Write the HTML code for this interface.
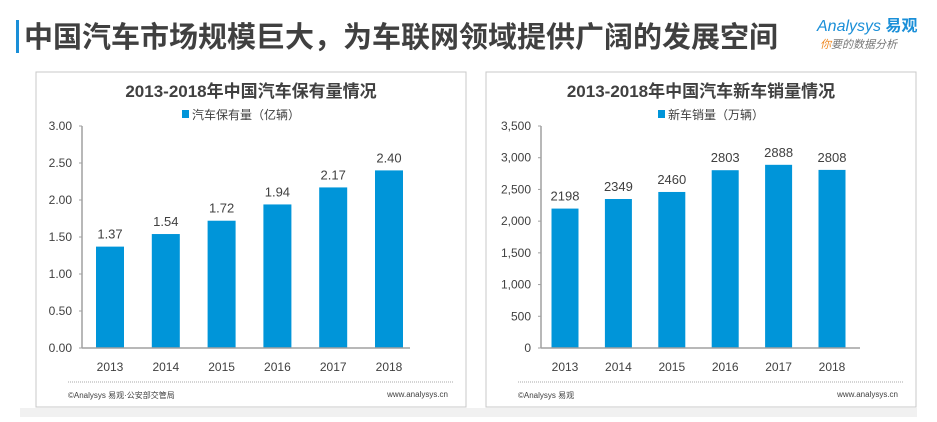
<!DOCTYPE html>
<html><head><meta charset="utf-8">
<style>
body{margin:0;width:937px;height:417px;background:#fff;overflow:hidden;font-family:"Liberation Sans","Noto Sans CJK SC",sans-serif;}
svg text{font-family:"Liberation Sans","Noto Sans CJK SC",sans-serif;}
</style></head><body>
<svg id="s" width="937" height="417" xmlns="http://www.w3.org/2000/svg">
<rect x="16" y="20" width="3" height="33" fill="#1a8fd8"/>
<text x="24" y="47" font-size="29" font-weight="bold" fill="#404040">中国汽车市场规模巨大，为车联网领域提供广阔的发展空间</text>
<text x="817" y="31" font-size="16" font-style="italic" fill="#1a8fd8">Analysys <tspan font-weight="bold" font-style="normal">易观</tspan></text>
<text x="820" y="48" font-size="11" font-style="italic" fill="#777"><tspan fill="#f08a24">你</tspan>要的数据分析</text>
<rect x="20" y="408" width="897" height="9" fill="#f1f1f1"/>
<g id="c1"></g><g id="c2"></g>
</svg>
<script>
const years=["2013","2014","2015","2016","2017","2018"];
const stockValues=[1.37,1.54,1.72,1.94,2.17,2.40];
const stockLabels=["1.37","1.54","1.72","1.94","2.17","2.40"];
const stockTicks=["0.00","0.50","1.00","1.50","2.00","2.50","3.00"];
const salesValues=[2198,2349,2460,2803,2888,2808];
const salesLabels=["2198","2349","2460","2803","2888","2808"];
const salesTicks=["0","500","1,000","1,500","2,000","2,500","3,000","3,500"];
const NS="http://www.w3.org/2000/svg";
function el(p,t,a,txt){const e=document.createElementNS(NS,t);for(const k in a)e.setAttribute(k,a[k]);if(txt!==undefined)e.textContent=txt;p.appendChild(e);return e;}
function chart(g,o){
 const px=o.px;
 const panel=el(g,"rect",{x:px,y:72,width:430,height:335,fill:"#fff",stroke:"#c8c8c8"});
 
 
 const t=el(g,"text",{x:px+215,y:97,"font-size":17,"font-weight":"bold",fill:"#404040","text-anchor":"middle"},o.title);
 
 
 const lg=el(g,"rect",{x:o.legX,y:110,width:7,height:8,fill:"#0095d9"});
 
 
 const lt=el(g,"text",{x:o.legX+10,y:119,"font-size":12,fill:"#404040"},o.legend);
 
 
 const y0=348,y1=126,ax=o.ax;
 const ys=v=>y0-(v/o.max)*(y0-y1);
 o.ticks.forEach((tk,i)=>{const v=o.max*i/(o.ticks.length-1);
  const tt=el(g,"text",{x:ax-10,y:ys(v)+4,"font-size":12,fill:"#404040","text-anchor":"end"},tk);
  
  
  const tm=el(g,"line",{x1:ax-3,x2:ax,y1:ys(v),y2:ys(v),stroke:"#a0a0a0"});
  
  });
 const ya=el(g,"line",{x1:ax,x2:ax,y1:y1,y2:y0,stroke:"#a0a0a0","stroke-width":1.5});
 
 
 o.values.forEach((v,i)=>{const cx=o.x0+i*o.step;
  const b=el(g,"rect",{x:cx-o.bw/2,y:ys(v),width:o.bw,height:y0-ys(v),fill:"#0095d9"});
  
  
  const vl=el(g,"text",{x:cx,y:ys(v)-8,"font-size":13,fill:"#404040","text-anchor":"middle"},o.labels[i]);
  
  
  const xl=el(g,"text",{x:cx,y:371,"font-size":12,fill:"#404040","text-anchor":"middle"},years[i]);
  
  });
 const xa=el(g,"line",{x1:ax,x2:o.axEnd,y1:y0,y2:y0,stroke:"#a0a0a0","stroke-width":1.5});
 
 
 const dl=el(g,"line",{x1:px+32,x2:px+417,y1:382,y2:382,stroke:"#aaa","stroke-dasharray":"1,1"});
 
 
 const s1=el(g,"text",{x:px+32,y:398,"font-size":8,fill:"#404040"},o.src);
 
 
 const s2=el(g,"text",{x:px+412,y:397,"font-size":8,fill:"#404040","text-anchor":"end"},"www.analysys.cn");
 
 
}
chart(document.getElementById("c1"),{px:36,title:"2013-2018年中国汽车保有量情况",legX:182,legend:"汽车保有量（亿辆）",ax:82,axEnd:410,x0:110,step:55.8,bw:28,max:3,ticks:stockTicks,values:stockValues,labels:stockLabels,src:"©Analysys 易观·公安部交管局"});
chart(document.getElementById("c2"),{px:486,title:"2013-2018年中国汽车新车销量情况",legX:658,legend:"新车销量（万辆）",ax:541,axEnd:860,x0:565,step:53.4,bw:27,max:3500,ticks:salesTicks,values:salesValues,labels:salesLabels,src:"©Analysys 易观"});
</script>
</body></html>
